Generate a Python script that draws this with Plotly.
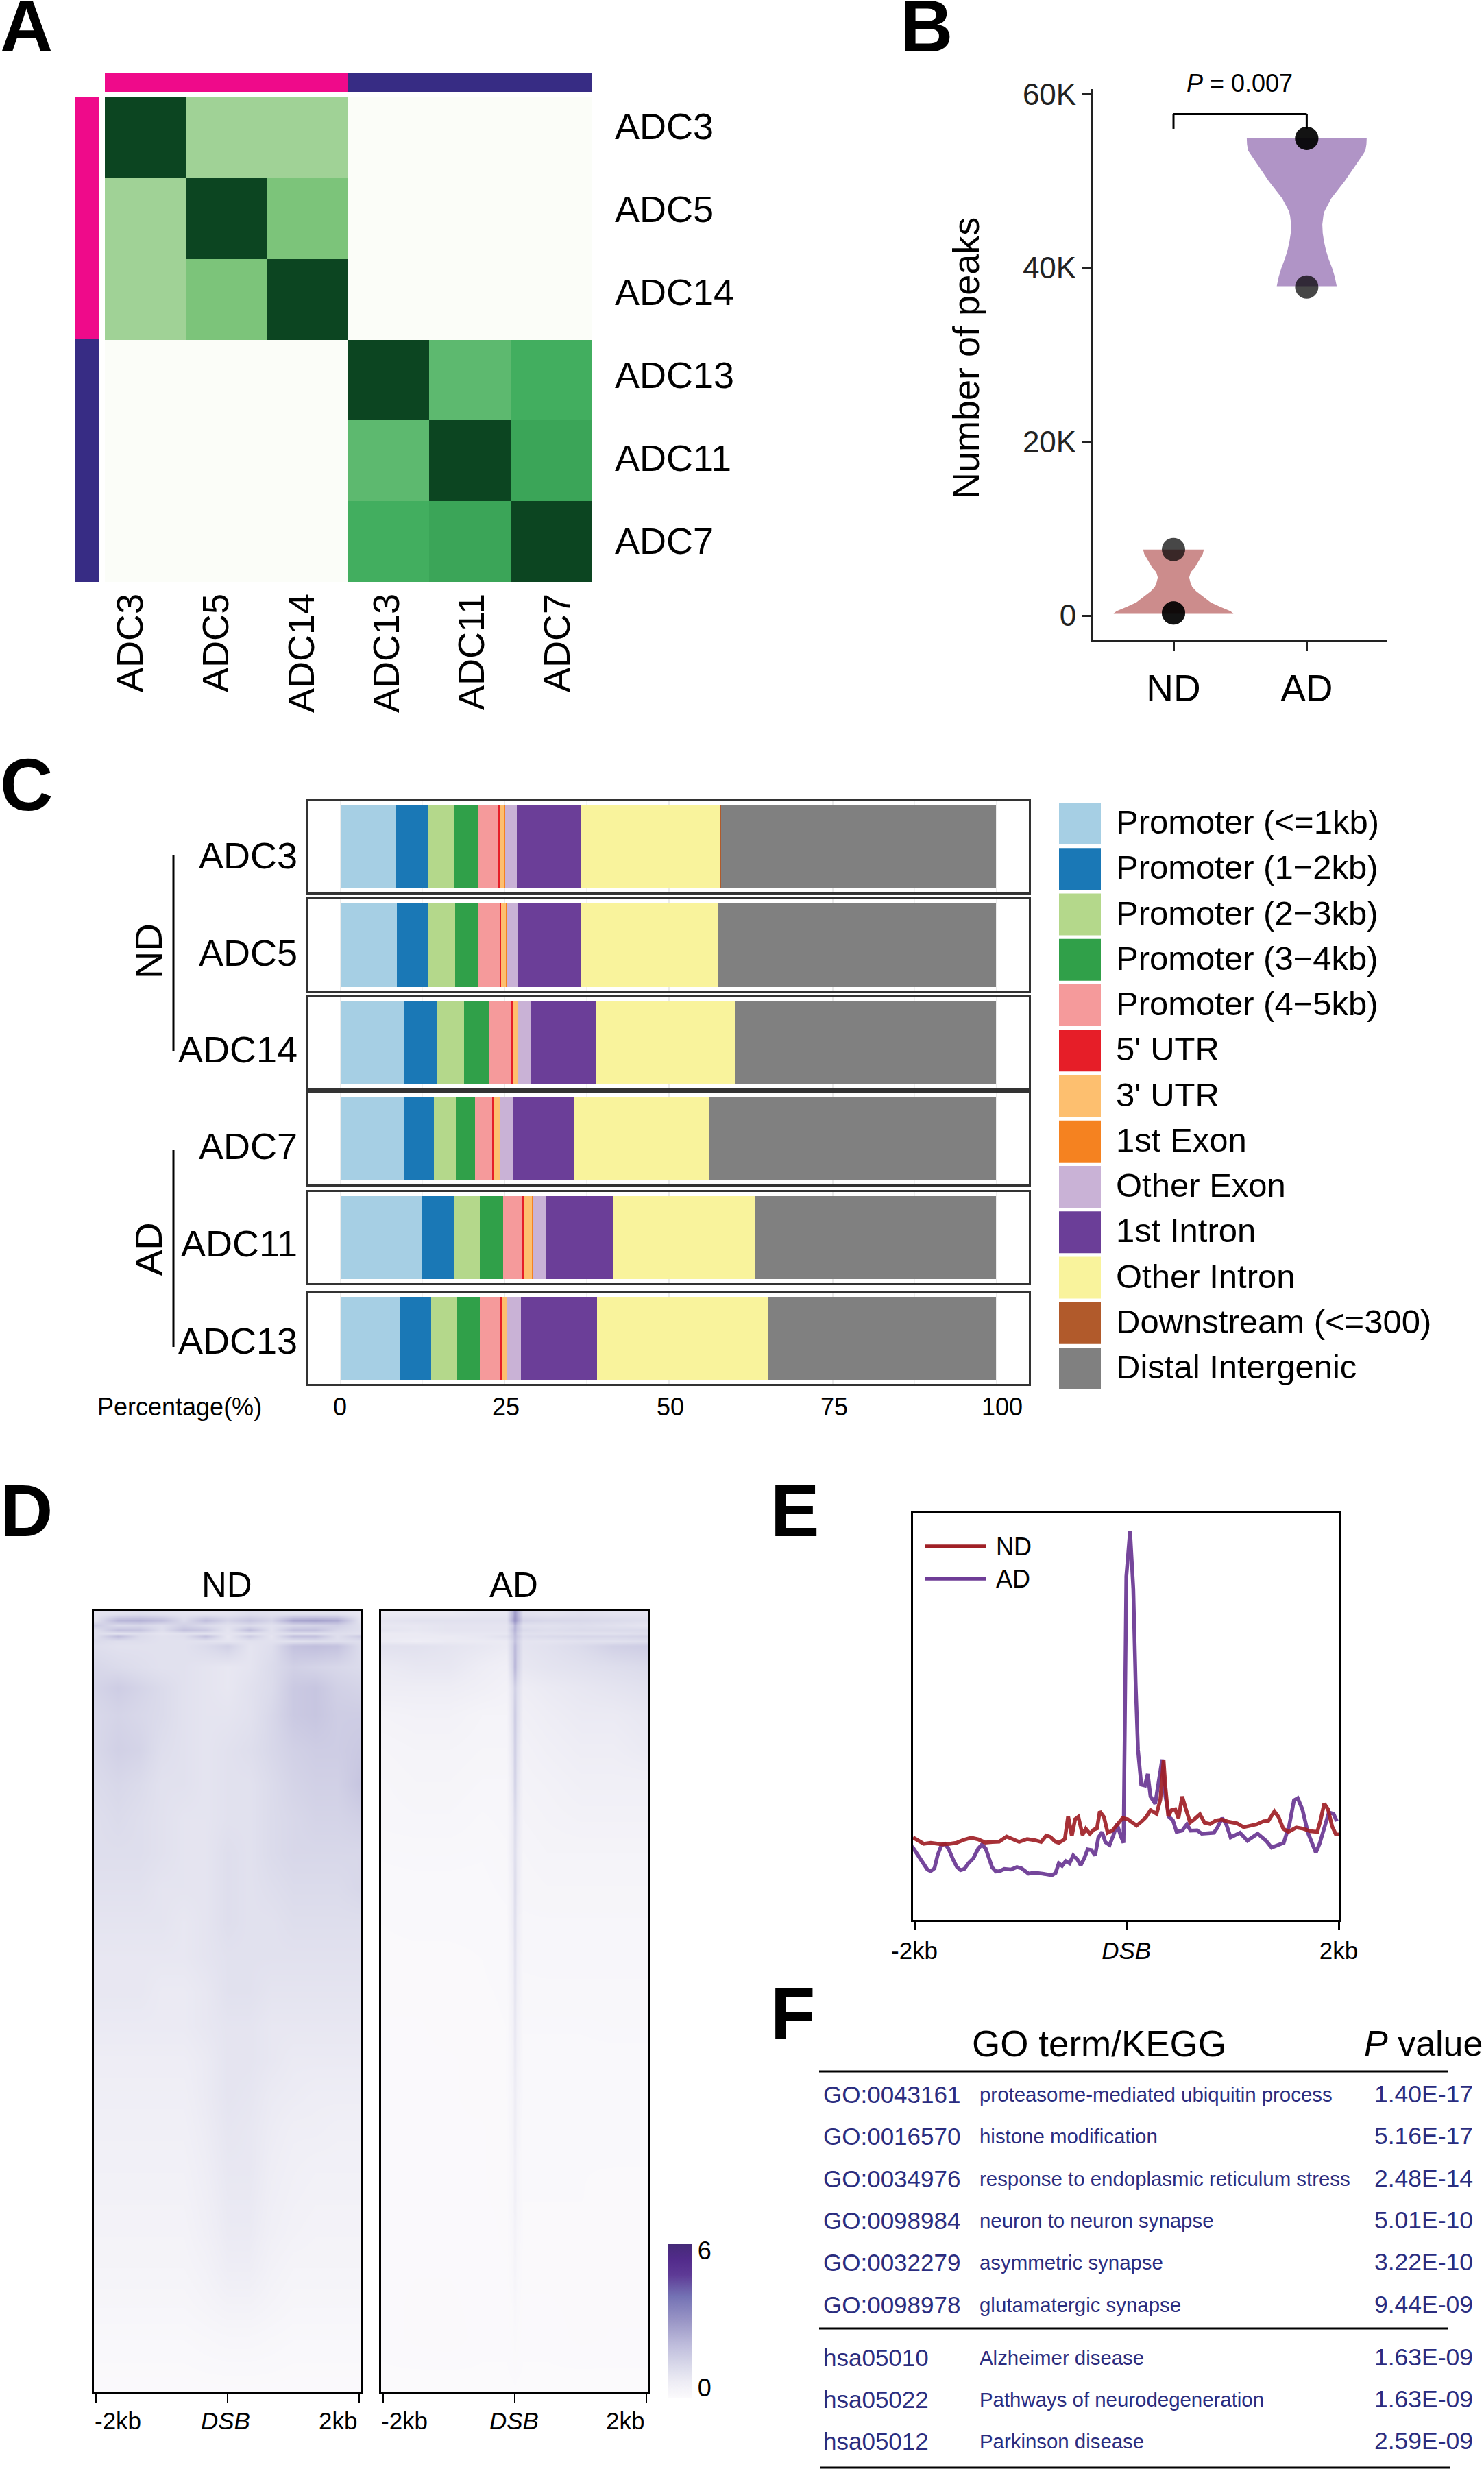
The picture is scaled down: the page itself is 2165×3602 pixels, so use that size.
import plotly.graph_objects as go

W, H = 2165, 3602
FONT = "Liberation Sans"

# ---------- Panel A ----------
a_labels = ["ADC3", "ADC5", "ADC14", "ADC13", "ADC11", "ADC7"]
a_corr = [
    [1.00, 0.35, 0.35, 0.00, 0.00, 0.00],
    [0.35, 1.00, 0.50, 0.00, 0.00, 0.00],
    [0.35, 0.50, 1.00, 0.00, 0.00, 0.00],
    [0.00, 0.00, 0.00, 1.00, 0.60, 0.70],
    [0.00, 0.00, 0.00, 0.60, 1.00, 0.73],
    [0.00, 0.00, 0.00, 0.70, 0.73, 1.00],
]
a_scale = [[0, "#FBFDF8"], [0.35, "#A0D296"], [0.5, "#7CC47A"], [0.6, "#5DB96F"],
           [0.7, "#42AE5F"], [0.73, "#3BA558"], [1, "#0C4521"]]
PINK, NAVY = "#EF0A8A", "#372C84"

# ---------- Panel B ----------
b_cats = [1, 2]
b_ticktext = ["ND", "AD"]
b_nd_y = [0.2, 0.5, 1.0, 1.5, 2.2, 2.8, 3.3, 3.9, 4.4, 5.0, 5.5, 6.0, 6.6, 7.1, 7.6]
b_nd_w = [0.45, 0.43, 0.35, 0.28, 0.22, 0.17, 0.14, 0.125, 0.118, 0.13, 0.16, 0.18, 0.20, 0.22, 0.228]
b_ad_y = [37.9, 39, 40, 41, 42, 43, 44, 45, 46, 46.5, 47, 48, 49, 50, 51, 52, 53, 53.5, 54.2, 54.9]
b_ad_w = [0.225, 0.21, 0.19, 0.165, 0.145, 0.13, 0.12, 0.117, 0.125, 0.133, 0.15, 0.184, 0.235, 0.286, 0.33, 0.375,
          0.42, 0.44, 0.448, 0.45]
b_points_x = [1, 1, 1, 2, 2, 2]
b_points_y = [0.3, 0.3, 7.6, 37.8, 54.9, 54.9]

# ---------- Panel C ----------
c_samples = ["ADC3", "ADC5", "ADC14", "ADC7", "ADC11", "ADC13"]
c_features = ["Promoter (<=1kb)", "Promoter (1\u22122kb)", "Promoter (2\u22123kb)", "Promoter (3\u22124kb)",
              "Promoter (4\u22125kb)", "5' UTR", "3' UTR", "1st Exon", "Other Exon", "1st Intron",
              "Other Intron", "Downstream (<=300)", "Distal Intergenic"]
c_colors = ["#A6CFE4", "#1A78B6", "#B4D88B", "#30A049", "#F59A9B", "#E61E28", "#FDBF6F", "#F58220",
            "#C9B2D6", "#6B3E98", "#F9F39C", "#B15A2B", "#808080"]
c_values = [
    [8.50, 8.60, 9.57, 9.76, 12.37, 8.99],
    [4.74, 4.83, 5.02, 4.44, 4.92, 4.83],
    [3.96, 4.06, 4.25, 3.38, 3.97, 3.86],
    [3.67, 3.57, 3.77, 2.90, 3.47, 3.58],
    [3.19, 3.19, 3.28, 2.71, 3.00, 3.09],
    [0.19, 0.19, 0.29, 0.19, 0.19, 0.19],
    [0.77, 0.77, 0.87, 0.96, 1.26, 0.87],
    [0.03, 0.03, 0.03, 0.03, 0.03, 0.03],
    [1.81, 1.81, 1.90, 2.00, 2.19, 2.09],
    [9.85, 9.66, 9.86, 9.18, 10.05, 11.50],
    [21.26, 20.77, 21.35, 20.58, 21.73, 26.18],
    [0.03, 0.10, 0.02, 0.02, 0.08, 0.02],
    [41.90, 42.32, 39.69, 43.75, 36.64, 34.67],
]
c_ticks = [0, 25, 50, 75, 100]

# ---------- Panel D ----------
d_depth = [3, 13, 20, 27, 32, 36, 43, 50, 80, 110, 150, 200, 250, 300, 350, 400, 450, 500, 550, 600,
           650, 700, 750, 800, 850, 900, 950, 1000, 1050, 1100, 1128]
d_nd_x = [-2, -1.67, -1.33, -1, -0.67, -0.33, 0, 0.33, 0.67, 1, 1.33, 1.67, 2]
d_nd = [
    [.9, 1.0, 1.1, 1.0, .9, .9, .9, 1.1, 1.0, 1.0, 1.0, 1.0, .8],
    [1.0, 2.2, 2.3, 2.0, 1.2, 2.0, 1.4, 1.8, 1.4, 2.6, 2.7, 2.5, 1.0],
    [1.6, 1.2, 1.3, 1.1, 1.5, 1.2, 1.0, 1.2, 1.0, 1.3, 1.4, 1.5, 1.1],
    [1.1, 1.9, 1.8, 1.1, 1.9, 1.7, .9, 2.0, 1.0, 1.9, 1.9, 1.3, 1.1],
    [1.1, 1.0, 1.1, .9, 1.0, 1.0, .9, 1.0, 1.0, 1.1, 1.1, 1.1, 1.0],
    [1.1, 2.0, 1.2, 1.0, 1.1, 1.9, .8, 1.6, .9, 1.9, 1.9, 1.1, 1.6],
    [1.2, 1.1, 1.1, 1.0, 1.0, 1.0, .9, 1.0, 1.0, 1.0, 1.1, 1.1, 1.1],
    [1.1, 1.0, 1.0, 1.0, 1.0, 1.2, 1.5, .9, 1.1, 1.9, 2.0, 1.9, 1.2],
    [1.3, 1.2, 1.1, 1.0, 1.0, .9, .8, .9, 1.2, 1.5, 1.4, 1.3, 1.2],
    [1.4, 1.6, 1.4, 1.2, 1.0, .9, .8, 1.0, 1.2, 1.7, 1.8, 1.5, 1.4],
    [1.3, 1.4, 1.3, 1.2, 1.0, .9, .9, 1.0, 1.3, 1.7, 1.8, 1.6, 1.6],
    [1.3, 1.5, 1.4, 1.1, 1.0, .9, 1.0, 1.1, 1.3, 1.5, 1.6, 1.6, 1.7],
    [1.2, 1.3, 1.2, 1.0, 1.0, .9, 1.0, 1.0, 1.2, 1.4, 1.5, 1.5, 1.8],
    [1.1, 1.2, 1.1, 1.0, .9, .9, 1.0, 1.0, 1.2, 1.3, 1.4, 1.4, 1.5],
    [1.1, 1.1, 1.1, 1.0, .9, .9, 1.1, 1.0, 1.2, 1.3, 1.3, 1.3, 1.3],
    [1.0, 1.0, 1.0, .9, .9, .9, 1.1, 1.0, 1.1, 1.2, 1.2, 1.2, 1.3],
    [.9, .9, .9, .9, .8, .9, 1.1, 1.0, 1.0, 1.1, 1.1, 1.1, 1.1],
    [.8, .8, .8, .8, .8, .9, 1.0, 1.0, 1.0, 1.0, 1.0, 1.0, 1.0],
    [.8, .8, .8, .7, .7, .8, 1.0, 1.0, .9, .9, .9, .9, .9],
    [.7, .7, .7, .7, .7, .8, .9, .9, .8, .8, .8, .8, .8],
    [.6, .6, .6, .6, .6, .7, .9, .9, .8, .7, .7, .7, .7],
    [.55, .55, .55, .55, .55, .7, .9, .85, .7, .65, .6, .6, .6],
    [.5, .5, .5, .5, .5, .65, .85, .8, .65, .55, .55, .5, .5],
    [.45, .45, .45, .45, .45, .6, .8, .8, .6, .5, .45, .45, .45],
    [.4, .4, .4, .4, .4, .55, .75, .75, .55, .45, .4, .4, .4],
    [.35, .35, .35, .35, .35, .5, .7, .7, .5, .4, .35, .35, .35],
    [.3, .3, .3, .3, .3, .4, .6, .6, .4, .3, .3, .3, .3],
    [.22, .22, .22, .22, .22, .3, .4, .4, .3, .22, .22, .22, .22],
    [.12, .12, .12, .12, .12, .16, .2, .2, .16, .12, .12, .12, .12],
    [.05, .05, .05, .05, .05, .07, .08, .08, .07, .05, .05, .05, .05],
    [.02, .02, .02, .02, .02, .02, .02, .02, .02, .02, .02, .02, .02],
]
d_ad_x = [-2, -1.5, -1, -0.5, -0.12, -0.03, 0, 0.03, 0.12, 0.5, 1, 1.5, 2]
d_ad = [
    [.7, .7, .7, .8, .8, 2.2, 3, 2.4, 1.0, .9, 1.0, .9, .9],
    [.9, 1.0, 1.0, 1.0, 1.0, 2.5, 3.2, 2.6, 1.4, 1.3, 1.3, 1.2, 1.1],
    [.8, .8, .9, .9, .9, 1.6, 2.4, 1.8, 1.0, 1.0, 1.1, 1.0, .9],
    [.9, .8, .9, .9, .9, 1.8, 2.4, 1.8, 1.2, 1.1, 1.2, 1.2, 1.2],
    [.7, .7, .8, .8, .8, 1.6, 2.2, 1.6, 1.0, 1.0, 1.0, 1.0, 1.1],
    [.7, .7, .7, .8, 1.0, 1.6, 2.1, 1.7, 1.1, 1.2, 1.3, 1.3, 1.4],
    [.7, .6, .7, .7, .7, 1.4, 2.0, 1.5, .9, .9, 1.0, 1.0, 1.1],
    [1.0, 1.0, .9, .8, .7, 1.5, 2.3, 1.6, .9, 1.0, 1.2, 1.5, 1.6],
    [.7, .8, .8, .6, .5, 1.4, 2.4, 1.5, .8, .9, 1.0, 1.1, 1.2],
    [.6, .6, .6, .5, .4, 1.0, 1.6, 1.1, .6, .7, .8, .9, 1.0],
    [.35, .4, .4, .3, .3, 1.0, 1.8, 1.1, .5, .6, .7, .7, .8],
    [.25, .3, .3, .25, .25, .9, 1.7, 1.0, .4, .5, .6, .6, .7],
    [.2, .25, .25, .2, .2, .8, 1.6, .9, .35, .4, .5, .5, .5],
    [.18, .2, .2, .15, .18, .7, 1.3, .8, .3, .35, .4, .4, .4],
    [.12, .13, .13, .12, .15, .7, 1.2, .7, .25, .3, .3, .3, .3],
    [.1, .1, .1, .1, .13, .6, 1.3, .7, .22, .25, .25, .25, .25],
    [.07, .08, .08, .08, .1, .6, 1.2, .6, .2, .2, .2, .2, .2],
    [.06, .06, .06, .07, .1, .5, 1.1, .55, .17, .18, .18, .18, .18],
    [.05, .05, .05, .06, .08, .45, 1.0, .5, .15, .15, .15, .15, .15],
    [.04, .04, .05, .05, .07, .4, .9, .45, .12, .12, .12, .13, .13],
    [.04, .04, .04, .05, .07, .35, .8, .4, .1, .1, .1, .1, .1],
    [.03, .04, .04, .05, .07, .3, .7, .35, .09, .09, .09, .1, .1],
    [.03, .04, .04, .04, .06, .3, .7, .3, .08, .08, .08, .08, .08],
    [.03, .03, .04, .04, .06, .25, .55, .25, .07, .08, .07, .07, .07],
    [.03, .03, .03, .04, .05, .22, .55, .25, .07, .07, .07, .06, .06],
    [.03, .03, .03, .03, .05, .18, .4, .2, .06, .06, .06, .05, .05],
    [.03, .04, .04, .03, .04, .15, .35, .15, .05, .05, .06, .05, .05],
    [.03, .05, .05, .03, .03, .08, .2, .1, .04, .04, .05, .05, .05],
    [.03, .05, .06, .03, .03, .05, .1, .06, .03, .03, .05, .04, .04],
    [.02, .02, .02, .02, .02, .03, .05, .03, .02, .02, .02, .02, .02],
    [.01, .01, .01, .01, .01, .01, .01, .01, .01, .01, .01, .01, .01],
]
d_scale = [[0, "#FBFAFC"], [.1, "#EEEDF5"], [.2, "#DBDBEB"], [.35, "#BDBBDB"], [.5, "#9A96C6"],
           [.66, "#7472B4"], [.8, "#5E3A96"], [.9, "#522B8B"], [1, "#452A78"]]

# ---------- Panel E (position in bins around the DSB, signal in arbitrary units) ----------
e_ad_x = [-460, -450, -438, -427, -420, -412, -405, -397, -390, -382, -372, -364, -356, -348, -338, -328, -318, -310,
          -302, -294, -288, -280, -272, -262, -248, -235, -225, -210, -198, -180, -160, -152, -145, -138, -130, -122,
          -114, -105, -98, -90, -83, -75, -67, -60, -52, -45, -36, -27, -20, -12, -6, -3, 0, 8, 15, 20, 25, 32, 40,
          46, 52, 62, 70, 77, 84, 92, 100, 108, 120, 130, 138, 152, 162, 175, 188, 195, 206, 215, 224, 244, 260, 282,
          300, 312, 325, 338, 350, 360, 368, 378, 390, 400, 407, 415, 425, 435, 445, 452]
e_ad_y = [234, 212, 182, 160, 155, 164, 207, 237, 242, 227, 192, 169, 158, 162, 182, 197, 227, 240,
          227, 192, 167, 154, 155, 162, 160, 168, 164, 147, 150, 147, 142, 149, 180, 172, 187, 180,
          205, 192, 174, 197, 224, 222, 205, 262, 279, 247, 238, 272, 305, 267, 245, 652, 1092, 1237, 1052, 752, 542, 430, 427,
          464, 392, 369, 452, 510, 392, 327, 317, 280, 284, 304, 284, 285, 274, 276, 277, 292, 324, 302, 262, 277, 252, 274,
          252, 230, 237, 245, 302, 380, 387, 352, 277, 237, 214, 242, 292, 342, 337, 314]
e_nd_x = [-458, -448, -435, -420, -405, -395, -380, -365, -350, -333, -318, -303, -288, -273, -257, -244, -230, -213,
          -198, -183, -172, -163, -153, -145, -132, -125, -117, -110, -103, -94, -87, -78, -70, -63, -57, -48, -40, -30,
          -20, -8, 3, 15, 22, 32, 42, 52, 65, 73, 80, 84, 90, 97, 105, 112, 120, 128, 137, 145, 158, 168, 180, 192,
          205, 220, 238, 252, 265, 280, 295, 305, 318, 327, 337, 348, 365, 380, 395, 410, 417, 425, 433, 442, 450, 460]
e_nd_y = [262, 252, 242, 245, 242, 240, 242, 245, 254, 261, 256, 246, 248, 249, 265, 257, 248, 257,
          254, 248, 268, 264, 249, 245, 257, 330, 267, 320, 328, 270, 290, 274, 287, 291, 345, 327, 277, 284,
          302, 324, 320, 305, 300, 312, 326, 349, 337, 382, 507, 422, 330, 349, 352, 324, 392, 352, 310, 319, 336, 309, 305, 316,
          319, 312, 307, 295, 299, 304, 314, 315, 345, 327, 290, 280, 294, 290, 282, 280, 317, 370, 352, 297, 272, 272]

# ---------- Panel F ----------
f_ids = ["GO:0043161", "GO:0016570", "GO:0034976", "GO:0098984", "GO:0032279", "GO:0098978",
         "hsa05010", "hsa05022", "hsa05012"]
f_terms = ["proteasome-mediated ubiquitin process", "histone modification", "response to endoplasmic reticulum stress",
           "neuron to neuron synapse", "asymmetric synapse", "glutamatergic synapse",
           "Alzheimer disease", "Pathways of neurodegeneration", "Parkinson disease"]
f_pvals = ["1.40E-17", "5.16E-17", "2.48E-14", "5.01E-10", "3.22E-10", "9.44E-09", "1.63E-09", "1.63E-09", "2.59E-09"]
F_COL = "#2B2D7F"
AD_COL, ND_COL = "rgba(110,60,150,0.95)", "rgba(160,32,38,0.92)"


def dx(a, b):
    return [a / W, b / W]


def dy(a, b):
    return [1 - b / H, 1 - a / H]


annots, shapes = [], []


def T(x, y, s, size, anchor="center", color="black", angle=0, bold=False, family=FONT, yanchor="middle"):
    annots.append(dict(xref="paper", yref="paper", x=x / W, y=1 - y / H, text=f"<b>{s}</b>" if bold else s,
                       showarrow=False, xanchor=anchor, yanchor=yanchor, textangle=angle, borderpad=0, borderwidth=0,
                       font=dict(family=family, size=size, color=color)))


def R(x0, y0, x1, y1, color):
    shapes.append(dict(type="rect", xref="paper", yref="paper", x0=x0 / W, x1=x1 / W, y0=1 - y0 / H, y1=1 - y1 / H,
                       fillcolor=color, line=dict(width=0), layer="above"))


def L(x0, y0, x1, y1, color="black", width=3):
    shapes.append(dict(type="line", xref="paper", yref="paper", x0=x0 / W, x1=x1 / W, y0=1 - y0 / H, y1=1 - y1 / H,
                       line=dict(color=color, width=width), layer="above"))


fig = go.Figure()
layout = {}

# Panel letters
T(0, 38, "A", 107, "left", bold=True)
T(1313, 38, "B", 107, "left", bold=True)
T(0, 1145, "C", 107, "left", bold=True)
T(0, 2204, "D", 107, "left", bold=True)
T(1124, 2204, "E", 107, "left", bold=True)
T(1124, 2938, "F", 107, "left", bold=True)

# --- A ---
fig.add_trace(go.Heatmap(z=a_corr, x=a_labels, y=a_labels, colorscale=a_scale, zmin=0, zmax=1, showscale=False,
                         xaxis="x", yaxis="y", hoverinfo="skip"))
layout["xaxis"] = dict(domain=dx(153, 863), anchor="y", showgrid=False, zeroline=False, ticks="", showticklabels=False)
layout["yaxis"] = dict(domain=dy(142, 849), anchor="x", autorange="reversed", showgrid=False, zeroline=False, ticks="",
                       showticklabels=False)
R(153, 106, 508, 134, PINK)
R(508, 106, 863, 134, NAVY)
R(109, 142, 145, 495, PINK)
R(109, 495, 145, 849, NAVY)
for s, y_, x_ in zip(a_labels, [184, 305, 426, 547, 668, 789], [189, 314, 439, 563, 687, 812]):
    T(897, y_, s, 54, "left")
    T(x_, 866, s, 54, angle=-90, yanchor="top")

# --- B ---
nd_xs = [1 - w for w in b_nd_w] + [1 + w for w in reversed(b_nd_w)]
nd_ys = b_nd_y + list(reversed(b_nd_y))
ad_xs = [2 - w for w in b_ad_w] + [2 + w for w in reversed(b_ad_w)]
ad_ys = b_ad_y + list(reversed(b_ad_y))
for xs, ys, c in [(nd_xs, nd_ys, "#CC8C8C"), (ad_xs, ad_ys, "#B094C6")]:
    fig.add_trace(go.Scatter(x=xs, y=ys, fill="toself", mode="lines", line=dict(width=0), fillcolor=c,
                             xaxis="x2", yaxis="y2", showlegend=False, hoverinfo="skip"))
fig.add_trace(go.Scatter(x=b_points_x, y=b_points_y, mode="markers", marker=dict(size=34, color="rgba(0,0,0,0.72)"),
                         xaxis="x2", yaxis="y2", showlegend=False, hoverinfo="skip"))
layout["xaxis2"] = dict(domain=dx(1595, 2023), anchor="y2", range=[0.398, 2.6], tickvals=b_cats, ticktext=b_ticktext,
                        showgrid=False, zeroline=False, showline=True, linecolor="#222", linewidth=3, ticks="outside",
                        ticklen=14, tickwidth=3, tickcolor="#222", tickfont=dict(family=FONT, size=55), ticklabelstandoff=7)
layout["yaxis2"] = dict(domain=dy(130, 933), anchor="x2", range=[-2.76, 60.57], tickvals=[0, 20, 40, 60],
                        ticktext=["0", "20K", "40K", "60K"], showgrid=False, zeroline=False, showline=True, linecolor="#222",
                        linewidth=3, ticks="outside", ticklen=13, tickwidth=3, tickcolor="#222",
                        tickfont=dict(family=FONT, size=44, color="#222"), ticklabelstandoff=0)
for x0, y0, x1, y1 in [(1, 56, 1, 57.7), (1, 57.7, 2, 57.7), (2, 57.7, 2, 56)]:
    shapes.append(dict(type="line", xref="x2", yref="y2", x0=x0, x1=x1, y0=y0, y1=y1, line=dict(color="black", width=3)))
T(1808, 122, "<i>P</i> = 0.007", 36)
T(1409, 523, "Number of peaks", 54, angle=-90)

# --- C ---
box_tops = [1168, 1312, 1454, 1594, 1739, 1886]
box_bottoms = [1302, 1446, 1588, 1728, 1872, 2019]
label_ys = [1248, 1390, 1531, 1672, 1814, 1956]
for r, s in enumerate(c_samples):
    xn, yn = f"x{r + 3}", f"y{r + 3}"
    for f, c, vals in zip(c_features, c_colors, c_values):
        fig.add_trace(go.Bar(x=[vals[r]], y=[0], orientation="h", width=1, marker=dict(color=c, line=dict(width=0)), name=f,
                             xaxis=xn, yaxis=yn, showlegend=False, hoverinfo="skip"))
    layout[f"xaxis{r + 3}"] = dict(domain=dx(450, 1501), anchor=yn, range=[-4.9, 104.9], tickvals=c_ticks, showgrid=True,
                                   gridcolor="#EBEBEB", gridwidth=2, zeroline=False, showline=True, mirror=True,
                                   linecolor="#333", linewidth=3, ticks="", showticklabels=False,
                                   minor=dict(showgrid=True, gridcolor="#F2F2F2", gridwidth=1, dtick=12.5, tick0=0))
    layout[f"yaxis{r + 3}"] = dict(domain=dy(box_tops[r], box_bottoms[r]), anchor=xn, range=[-0.55, 0.55], showgrid=False,
                                   zeroline=False, showticklabels=False, ticks="", showline=True, mirror=True,
                                   linecolor="#333", linewidth=3)
    T(434, label_ys[r], s, 54, "right")
L(253, 1247, 253, 1534)
L(253, 1678, 253, 1965)
T(216, 1388, "ND", 56, angle=-90)
T(216, 1822, "AD", 56, angle=-90)
T(142, 2052, "Percentage(%)", 36, "left")
for t, px in zip(c_ticks, [496, 738, 978, 1217, 1462]):
    T(px, 2052, str(t), 36)
for i, (f, c) in enumerate(zip(c_features, c_colors)):
    top = 1171 + 66.25 * i
    R(1545, top, 1606, top + 61, c)
    T(1628, top + 28, f, 49, "left")

# --- D ---
fig.add_trace(go.Heatmap(z=d_nd, x=d_nd_x, y=d_depth, colorscale=d_scale, zmin=0, zmax=6, zsmooth="best", xaxis="x9",
                         yaxis="y9", hoverinfo="skip", showscale=False))
fig.add_trace(go.Heatmap(z=d_ad, x=d_ad_x, y=d_depth, colorscale=d_scale, zmin=0, zmax=6, zsmooth="best", xaxis="x10",
                         yaxis="y10", hoverinfo="skip", showscale=True,
                         colorbar=dict(x=975 / W, xanchor="left", xpad=0, y=1 - 3274 / H, yanchor="top", ypad=0,
                                       lenmode="pixels", len=224, thicknessmode="pixels", thickness=35, outlinewidth=0,
                                       tickvals=[0.4, 5.75], ticktext=["0", "6"], ticks="",
                                       tickfont=dict(family=FONT, size=36), ticklabelposition="outside")))
for xn, yn, x0, x1, i in [("x9", "y9", 137, 527, 9), ("x10", "y10", 556, 946, 10)]:
    layout[f"xaxis{i}"] = dict(domain=dx(x0, x1), anchor=yn, range=[-2.03, 2.03], tickvals=[-2, 0, 2], showticklabels=False,
                               ticks="outside", ticklen=13, tickwidth=2, tickcolor="black", showgrid=False, zeroline=False,
                               showline=True, mirror=True, linecolor="black", linewidth=3)
    layout[f"yaxis{i}"] = dict(domain=dy(2351, 3489), anchor=xn, range=[1128, 0], showticklabels=False, ticks="",
                               showgrid=False, zeroline=False, showline=True, mirror=True, linecolor="black", linewidth=3)
T(331, 2312, "ND", 51)
T(749, 2312, "AD", 51)
for cx, s in [(172, "-2kb"), (329, "<i>DSB</i>"), (493, "2kb"), (590, "-2kb"), (750, "<i>DSB</i>"), (912, "2kb")]:
    T(cx, 3531, s, 35)

# --- E ---
fig.add_trace(go.Scatter(x=e_ad_x, y=e_ad_y, mode="lines", name="AD", line=dict(color=AD_COL, width=5.5),
                         xaxis="x11", yaxis="y11", hoverinfo="skip", showlegend=False))
fig.add_trace(go.Scatter(x=e_nd_x, y=e_nd_y, mode="lines", name="ND", line=dict(color=ND_COL, width=5.5),
                         xaxis="x11", yaxis="y11", hoverinfo="skip", showlegend=False))
layout["xaxis11"] = dict(domain=dx(1332, 1953), anchor="y11", range=[-458, 456], tickvals=[-455, 0, 456],
                         ticktext=["-2kb", "<i>DSB</i>", "2kb"], ticks="outside", ticklen=12, tickwidth=3, tickcolor="black",
                         tickfont=dict(family=FONT, size=35), showgrid=False, zeroline=False, showline=True, mirror=True,
                         linecolor="black", linewidth=3, ticklabelstandoff=0)
layout["yaxis11"] = dict(domain=dy(2207, 2801), anchor="x11", range=[0, 1294], showticklabels=False, ticks="", showgrid=False,
                         zeroline=False, showline=True, mirror=True, linecolor="black", linewidth=3)
L(1350, 2256, 1438, 2256, "#A02026", 5.5)
L(1350, 2303, 1438, 2303, "#6E3C96", 5.5)
T(1453, 2256, "ND", 36, "left")
T(1453, 2303, "AD", 36, "left")

# --- F ---
rows_y = [3055, 3116, 3178, 3239, 3300, 3362, 3439, 3500, 3561]
T(1603, 2981, "GO term/KEGG", 53)
T(1990, 2981, "<i>P</i> value", 52, "left")
L(1195, 3022, 2113, 3022)
L(1195, 3397, 2113, 3397)
L(1197, 3600, 2115, 3600)
for y, i_, t, p in zip(rows_y, f_ids, f_terms, f_pvals):
    T(1201, y, i_, 35, "left", F_COL)
    T(1429, y, t, 29.4, "left", F_COL)
    T(2005, y, p, 35.5, "left", F_COL)

fig.update_layout(**layout)
fig.update_layout(width=W, height=H, margin=dict(l=0, r=0, t=0, b=0, autoexpand=False), barmode="stack", bargap=0,
                  plot_bgcolor="white", paper_bgcolor="white", font=dict(family=FONT, color="black"),
                  annotations=annots, shapes=shapes, showlegend=False)
fig.write_html("out.html", config=dict(displayModeBar=False),
               post_script="document.body.style.margin='0';")
